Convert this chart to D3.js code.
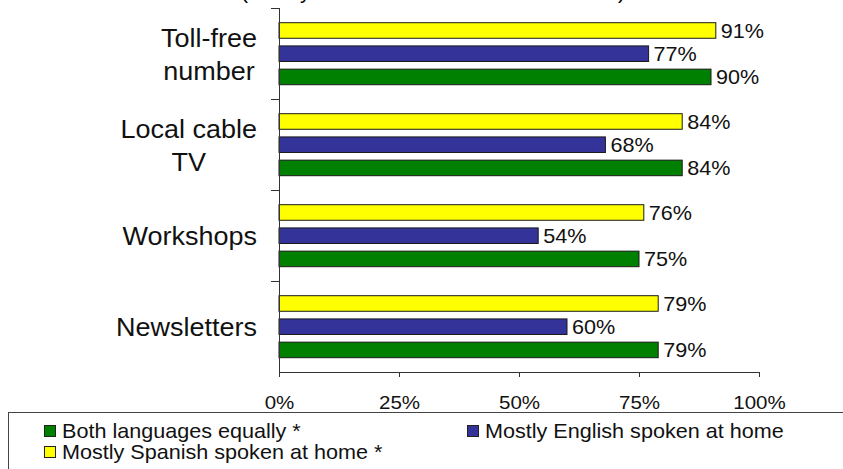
<!DOCTYPE html>
<html><head><meta charset="utf-8">
<script src="https://cdn.jsdelivr.net/npm/d3@7"></script>
<style>body{margin:0;background:#fff}svg{display:block;font-family:"Liberation Sans",Arial,sans-serif}</style>
</head><body><svg id="c" width="843" height="469"></svg>
<script>
const categories = [["Toll-free","number"],["Local cable","TV"],["Workshops"],["Newsletters"]];
const seriesNames = ["Mostly Spanish spoken at home *","Mostly English spoken at home","Both languages equally *"];
const seriesColors = ["#ffff00","#333399","#008000"];
const spanish = [91,84,76,79];
const english = [77,68,54,60];
const both = [90,84,75,79];
const xTicks = [0,25,50,75,100];
const titleText = "(Mostly or somewhat interested in each)";

const FF = "'Liberation Sans',Arial,sans-serif";
const svg = d3.select("#c");
const x = d3.scaleLinear().domain([0,100]).range([279,759]);
const y = d3.scaleBand().domain(d3.range(categories.length)).range([8,372]).paddingInner(0).paddingOuter(0);
const inner = d3.scaleBand().domain([0,1,2]).range([14.7, y.bandwidth()-14.3]).paddingInner(0.33);
const values = [spanish, english, both];

// helper: text horizontally stretched like the reference
function stretch(sel, ax){ return sel.attr("transform",`translate(${ax},0) scale(1.08,1) translate(${-ax},0)`); }

// title (cut off at top)
svg.append("text").attr("x",241).attr("y",-1).attr("font-size",21)
  .attr("textLength",384).attr("lengthAdjust","spacing").text(titleText);

// bars
categories.forEach((c,i)=>{
  values.forEach((vals,s)=>{
    const y0 = y(i)+inner(s);
    svg.append("rect").attr("x",x(0)).attr("y",y0).attr("width",x(vals[i])-x(0)).attr("height",inner.bandwidth())
      .attr("fill",seriesColors[s]).attr("stroke","#1a1a1a").attr("stroke-width",1);
    const t = svg.append("text").attr("x",x(vals[i])+5).attr("y",y0+inner.bandwidth()/2).attr("dy","0.36em")
      .attr("font-size",20).attr("fill","#111").text(vals[i]+"%");
    stretch(t, x(vals[i])+5);
  });
});

// y axis
const yAxis = svg.append("g").attr("transform",`translate(${x(0)},0)`);
yAxis.append("line").attr("x1",0.5).attr("x2",0.5).attr("y1",8).attr("y2",377).attr("stroke","#333");
d3.range(categories.length).forEach(i=>{
  const yy = Math.round(y(i))+0.5;
  yAxis.append("line").attr("x1",-8).attr("x2",0).attr("y1",yy).attr("y2",yy).attr("stroke","#333");
});
// x axis
const xAxis = svg.append("g").attr("transform","translate(0,372)")
  .call(d3.axisBottom(x).tickValues(xTicks).tickSize(5).tickSizeOuter(0).tickFormat(d=>d+"%"));
xAxis.select(".domain").attr("stroke","#333");
xAxis.selectAll(".tick line").attr("stroke","#333");
xAxis.selectAll("text").attr("font-size",19).attr("font-family",FF).attr("fill","#111").attr("dy","0").attr("y",37)
  .attr("transform","scale(1.08,1)");

// category labels
const fs = 25;
categories.forEach((lines,i)=>{
  const cy = y(i)+y.bandwidth()/2;
  const g = svg.append("text").attr("font-size",fs).attr("text-anchor","middle").attr("fill","#111");
  const tspans = lines.map((l,k)=>g.append("tspan").text(l));
  const widths = tspans.map(t=>t.node().getComputedTextLength()*1.08);
  const cx = 257 - d3.max(widths)/2;
  const lh = 33.5;
  tspans.forEach((t,k)=>{
    t.attr("x",cx).attr("y",cy + 0.4*fs + (k-(lines.length-1)/2)*lh);
  });
  stretch(g, cx);
});

// legend
const lg = svg.append("g");
lg.append("rect").attr("x",8.5).attr("y",412.5).attr("width",900).attr("height",100).attr("fill","none").attr("stroke","#444");
const legendItems = [
  {s:2,x:44,y:431},{s:1,x:467,y:431},{s:0,x:44,y:452}
];
legendItems.forEach(it=>{
  lg.append("rect").attr("x",it.x+0.5).attr("y",it.y-5.5).attr("width",11).attr("height",11)
    .attr("fill",seriesColors[it.s]).attr("stroke","#222");
  const t = lg.append("text").attr("x",it.x+18).attr("y",it.y).attr("dy","0.36em").attr("font-size",20).attr("fill","#111").text(seriesNames[it.s]);
  stretch(t, it.x+18);
});
</script></body></html>
